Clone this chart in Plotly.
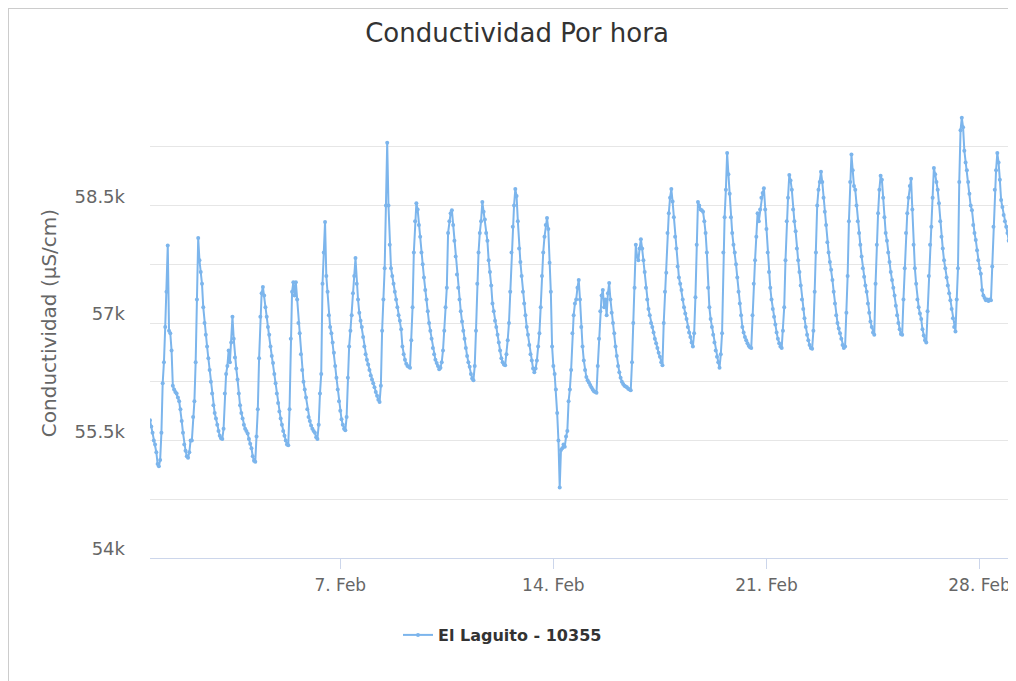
import pandas as pd
import plotly.graph_objects as go

# Hourly conductivity readings (µS/cm)
week1 = [
    55760, 55680, 55600, 55500, 55450, 55350, 55200, 55170, 55250, 55600, 56230, 56500,
    56950, 57400, 57990, 56900, 56870, 56650, 56200, 56150, 56120, 56100, 56050, 56000,
    55900, 55750, 55600, 55450, 55370, 55300, 55280, 55350, 55500, 55500, 55800, 56000,
    56500, 57300, 58085, 57800, 57650, 57500, 57200, 57000, 56850, 56700, 56550, 56400,
    56250, 56100, 55950, 55850, 55780, 55700, 55620, 55560, 55530, 55520, 55650, 56100,
    56350, 56450, 56650, 56500, 56750, 57080, 56800, 56560, 56420, 56280, 56100, 55950,
    55850, 55780, 55700, 55650, 55620, 55590, 55520, 55460, 55400, 55300, 55240, 55230,
    55550, 55900, 56550, 57080, 57380, 57460, 57350, 57200, 57080, 56950, 56850, 56700,
    56580, 56490, 56350, 56230, 56100, 55980, 55870, 55780, 55700, 55620, 55560, 55500,
    55450, 55440, 55900, 56800, 57400, 57520, 57350, 57520, 57300, 57000, 56870, 56600,
    56400, 56250, 56150, 56050, 55900, 55800, 55750, 55690, 55650, 55620, 55600, 55540,
    55520, 55700, 56100, 56350, 57500, 57900, 58290, 57600, 57400, 57100, 56950, 56870,
    56750, 56620, 56450, 56300, 56150, 56000, 55880, 55770, 55700, 55650, 55630, 55800,
    56300, 56700, 56900, 57100, 57380, 57600, 57830, 57500, 57300, 57130, 57030, 56950,
]
week2 = [
    56820, 56700, 56600, 56530, 56470, 56400, 56330, 56280, 56230, 56180, 56120, 56070,
    56020, 55990, 56200, 56900, 57300, 57700, 58500, 59300, 58500, 58000, 57700, 57600,
    57500, 57400, 57300, 57200, 57100, 57030, 56920, 56700, 56600, 56530, 56480, 56450,
    56440, 56430, 56780, 57200, 57900, 58300, 58530, 58450, 58250, 58100, 57900, 57750,
    57580, 57420, 57300, 57150, 57000, 56900, 56800, 56680, 56600, 56530, 56490, 56450,
    56410, 56430, 56500, 56650, 56900, 57200, 57450, 58150, 58300, 58400, 58440, 58250,
    58050, 57850, 57620, 57450, 57300, 57150, 57020, 56900, 56800, 56680, 56580, 56500,
    56440, 56350, 56290, 56270, 56450, 56900, 57500, 57900, 58150, 58300, 58545, 58420,
    58320, 58150, 58050, 57800, 57650, 57480, 57250, 57150, 57030, 56950, 56850, 56750,
    56650, 56550, 56500, 56470, 56460, 56600, 56780, 57000, 57400, 57900, 58230, 58500,
    58710, 58620, 58300, 57950, 57780, 57600, 57400, 57250, 57100, 56950, 56850, 56720,
    56600, 56520, 56420, 56370, 56420, 56520, 56700, 56870, 57200, 57600, 57900, 58100,
    58250, 58340, 58200, 57770, 57400, 56700, 56450, 56350, 56150, 55850, 55500, 54900,
    55380, 55400, 55450, 55420, 55550, 55620, 56000, 56150, 56400, 56870, 57100, 57250,
]
week3 = [
    57300, 57450, 57550, 57300, 56950, 56700, 56520, 56400, 56310, 56270, 56240, 56210,
    56180, 56150, 56130, 56120, 56110, 56450, 56800, 57150, 57350, 57420, 57200, 57300,
    57100, 57380, 57510, 57300, 57130, 57000, 56870, 56700, 56580, 56450, 56370, 56300,
    56250, 56220, 56200, 56190, 56180, 56160, 56150, 56140, 56500, 57000, 57450, 58000,
    57850, 57800, 57950, 58070, 57950, 57800, 57650, 57450, 57300, 57180, 57100, 57000,
    56950, 56880, 56800, 56740, 56680, 56620, 56570, 56500, 56460, 57000, 57400, 57640,
    58150, 58400, 58600, 58710, 58550, 58350, 58100, 57950, 57720, 57580, 57500, 57420,
    57300, 57200, 57120, 57050, 56950, 56880, 56820, 56750, 56700, 56870, 57330, 58000,
    58545, 58500, 58450, 58440, 58420, 58300, 58150, 57900, 57450, 57200, 57050, 56950,
    56850, 56750, 56650, 56570, 56500, 56430, 56600, 56870, 57900, 58350, 58700, 59170,
    58900, 58650, 58350, 58150, 58000, 57900, 57750, 57580, 57400, 57250, 57100, 56950,
    56880, 56820, 56780, 56740, 56710, 56690, 56680, 57100, 57500, 57800, 58100, 58400,
    58300, 58450, 58600, 58660, 58720, 58450, 58200, 57900, 57650, 57450, 57300, 57180,
    57080, 56980, 56880, 56800, 56740, 56700, 56680, 56900, 57200, 57800, 58300, 58600,
]
week4 = [
    58890, 58820, 58700, 58450, 58300, 58170, 57950, 57800, 57650, 57480, 57300, 57180,
    57060, 56950, 56850, 56780, 56720, 56680, 56670, 56900, 57400, 57900, 58500, 58700,
    58800, 58930, 58800, 58600, 58420, 58250, 58030, 57900, 57780, 57680, 57550, 57400,
    57250, 57100, 57000, 56930, 56870, 56800, 56720, 56680, 56700, 57130, 57600, 58300,
    58800, 59150, 58950, 58750, 58700, 58500, 58300, 58150, 58000, 57850, 57700, 57590,
    57480, 57400, 57250, 57130, 57020, 56950, 56880, 56850, 57500, 58000, 58400, 58700,
    58880, 58830, 58600, 58350, 58150, 58050, 57900, 57780, 57650, 57550, 57450, 57350,
    57220, 57100, 57000, 56920, 56860, 56850, 57300, 57700, 58150, 58400, 58600, 58750,
    58840, 58450, 58000, 57700, 57500, 57300, 57200, 57120, 57050, 56920, 56840, 56780,
    56750, 57150, 57600, 58000, 58230, 58600, 58980, 58900, 58800, 58700, 58530, 58300,
    58100, 57950, 57800, 57700, 57580, 57480, 57380, 57290, 57180, 57060, 56950, 56890,
    57300, 57700, 58800, 59460, 59620, 59500, 59200, 59050, 58950, 58800, 58650, 58500,
    58440, 58250, 58150, 58060, 57930, 57800, 57700, 57630, 57420, 57350, 57320, 57290,
    57300, 57280, 57300, 57290, 57720, 58230, 58700, 58950, 59170, 59050, 58830, 58570,
    58480, 58380, 58300, 58230, 58150, 58050, 57950,
]
values = week1 + week2 + week3 + week4
start_time = "2020-01-31 18:00"
series_name = "El Laguito - 10355"
chart_title = "Conductividad Por hora"
y_title = "Conductividad (µS/cm)"

x_tick_dates = ["2020-02-07", "2020-02-14", "2020-02-21", "2020-02-28"]
x_tick_labels = ["7. Feb", "14. Feb", "21. Feb", "28. Feb"]
y_tick_values = [54000, 54750, 55500, 56250, 57000, 57750, 58500, 59250, 60000]
y_tick_labels = ["54k", "", "55.5k", "", "57k", "", "58.5k", "", ""]

times = pd.date_range(start_time, periods=len(values), freq="h")

# The page body has an 8px margin, so the figure is drawn 8px smaller and every
# position below is given relative to the figure's own corner.
W, H = 1008, 673
L, R, T, B = 142, 6, 80, 123
PW, PH = W - L - R, H - T - B

FONT = "DejaVu Sans"
fig = go.Figure(
    go.Scatter(
        x=times, y=values, mode="lines+markers", name=series_name,
        line=dict(color="#7cb5ec", width=2),
        marker=dict(size=4, color="#7cb5ec"),
    )
)
fig.update_layout(
    width=W, height=H,
    margin=dict(l=L, r=R, t=T, b=B),
    paper_bgcolor="white", plot_bgcolor="white",
    font=dict(family=FONT, color="#666666"),
    title=dict(text=chart_title, x=509 / W, xanchor="center",
               y=1 - 25 / H, yanchor="middle",
               font=dict(family=FONT, size=26, color="#333333")),
    showlegend=True,
    legend=dict(orientation="h", x=(390 - L) / PW, xanchor="left",
                y=(H - B - 627) / PH, yanchor="middle",
                font=dict(family=FONT, size=16, color="#333333", weight="bold")),
    xaxis=dict(
        range=[times[0], times[-1]],
        tickvals=pd.to_datetime(x_tick_dates), ticktext=x_tick_labels,
        showgrid=False, showline=True, linecolor="#ccd6eb", linewidth=1,
        ticks="outside", ticklen=10, tickcolor="#ccd6eb",
        ticklabelstandoff=2,
        tickfont=dict(size=17, color="#666666"), zeroline=False,
    ),
    yaxis=dict(
        range=[54000, 60000],
        tickvals=y_tick_values, ticktext=y_tick_labels,
        showgrid=True, gridcolor="#e6e6e6", gridwidth=1,
        zeroline=False, showline=False,
        tickfont=dict(size=18, color="#666666"),
        ticklabelstandoff=24, ticklabelshift=-9,
        title=dict(text=y_title, font=dict(size=20, color="#666666"), standoff=12),
    ),
    shapes=[
        dict(type="line", xref="paper", yref="paper", x0=-L / PW, x1=-L / PW,
             y0=-B / PH, y1=(H - B) / PH, line=dict(color="#cccccc", width=2)),
        dict(type="line", xref="paper", yref="paper", x0=-L / PW, x1=(W - L) / PW,
             y0=(H - B) / PH, y1=(H - B) / PH, line=dict(color="#cccccc", width=2)),
    ],
)
fig.write_html("out.html")
